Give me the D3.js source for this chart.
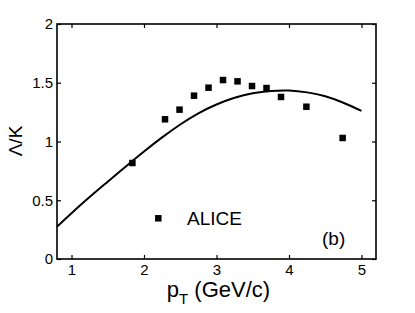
<!DOCTYPE html>
<html><head><meta charset="utf-8">
<script src="https://cdn.jsdelivr.net/npm/d3@7"></script>
<style>body{margin:0;background:#fff}svg{display:block}text{font-family:"Liberation Sans",Arial,sans-serif;fill:#000}</style>
</head><body>
<script>
const aliceX = [1.84, 2.29, 2.49, 2.69, 2.89, 3.09, 3.29, 3.49, 3.69, 3.89, 4.24, 4.74];
const aliceY = [0.817, 1.189, 1.271, 1.39, 1.458, 1.523, 1.512, 1.472, 1.455, 1.379, 1.296, 1.03];
const curveX = [0.8, 1.0, 1.25, 1.5, 1.75, 2.0, 2.25, 2.5, 2.75, 3.0, 3.25, 3.5, 3.75, 4.0, 4.25, 4.5, 4.75, 5.0];
const curveY = [0.275, 0.39, 0.527, 0.658, 0.788, 0.915, 1.035, 1.145, 1.24, 1.315, 1.372, 1.41, 1.43, 1.434, 1.418, 1.385, 1.33, 1.26];
const xTicks = [1, 2, 3, 4, 5];
const yTicks = [0, 0.5, 1, 1.5, 2];

const W = 415, H = 313;
const m = {l: 57, r: 39, t: 24, b: 54};
const svg = d3.select("body").append("svg").attr("width", W).attr("height", H);
const x = d3.scaleLinear().domain([0.8, 5.2]).range([m.l, W - m.r]);
const y = d3.scaleLinear().domain([0, 2]).range([H - m.b, m.t]);

function styleAxis(g){
  g.select(".domain").remove();
  g.selectAll(".tick line").attr("stroke", "#000").attr("stroke-width", 1.2);
  g.selectAll(".tick text").attr("font-size", 15).attr("font-family", '"Liberation Sans",Arial,sans-serif');
}
svg.append("g").attr("transform", `translate(0,${H - m.b})`)
  .call(d3.axisBottom(x).tickValues(xTicks).tickSize(-4).tickPadding(5.5).tickFormat(d3.format("d")))
  .call(styleAxis);
svg.append("g").attr("transform", `translate(0,${m.t})`)
  .call(d3.axisTop(x).tickValues(xTicks).tickSize(-4).tickFormat(""))
  .call(styleAxis);
svg.append("g").attr("transform", `translate(${m.l},0)`)
  .call(d3.axisLeft(y).tickValues(yTicks).tickSize(-4).tickPadding(4).tickFormat(d => String(d)))
  .call(styleAxis);
svg.append("g").attr("transform", `translate(${W - m.r},0)`)
  .call(d3.axisRight(y).tickValues(yTicks).tickSize(-4).tickFormat(""))
  .call(styleAxis);

svg.append("rect").attr("x", m.l).attr("y", m.t)
  .attr("width", W - m.r - m.l).attr("height", H - m.b - m.t)
  .attr("fill", "none").attr("stroke", "#000").attr("stroke-width", 1.6);

const line = d3.line().curve(d3.curveNatural).x((d, i) => x(curveX[i])).y((d, i) => y(curveY[i]));
svg.append("path").datum(curveY).attr("d", line)
  .attr("fill", "none").attr("stroke", "#000").attr("stroke-width", 2);

const s = 6.5;
svg.append("g").selectAll("rect").data(aliceX).join("rect")
  .attr("x", (d) => x(d) - s / 2).attr("y", (d, i) => y(aliceY[i]) - s / 2)
  .attr("width", s).attr("height", s).attr("fill", "#000");

// legend
svg.append("rect").attr("x", 158.3 - s / 2).attr("y", 218.3 - s / 2).attr("width", s).attr("height", s).attr("fill", "#000");
svg.append("text").attr("x", 187).attr("y", 225).attr("font-size", 19).text("ALICE");
svg.append("text").attr("x", 322).attr("y", 245).attr("font-size", 19).text("(b)");

// axis labels
const xl = svg.append("text").attr("x", 218.5).attr("y", 297).attr("text-anchor", "middle").attr("font-size", 22);
xl.append("tspan").text("p");
xl.append("tspan").attr("dy", 7).attr("font-size", 15).text("T");
xl.append("tspan").attr("dy", -7).text(" (GeV/c)");

svg.append("text").attr("transform", "translate(22,141) rotate(-90)")
  .attr("text-anchor", "middle").attr("font-size", 19).text("Λ/K");
</script>
</body></html>
